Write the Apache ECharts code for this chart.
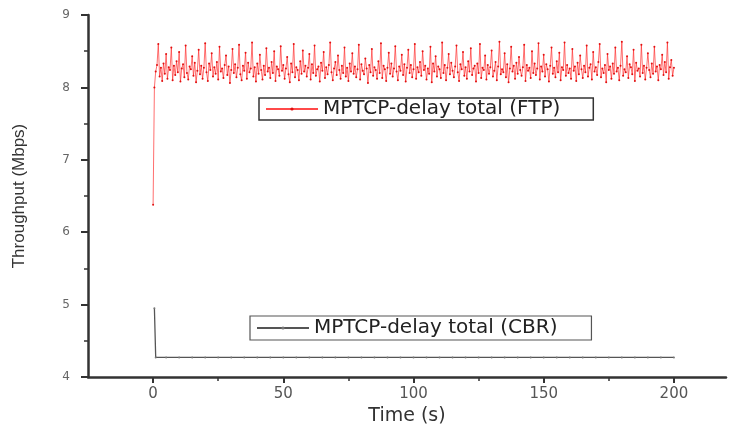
<!DOCTYPE html>
<html>
<head>
<meta charset="utf-8">
<script src="https://cdn.jsdelivr.net/npm/echarts@6/dist/echarts.min.js"></script>
<style>html,body{margin:0;padding:0;background:#fff;}#c{width:735px;height:424px;}</style>
</head>
<body>
<div id="c"></div>
<script>
var ftpName = 'MPTCP-delay total (FTP)';
var cbrName = 'MPTCP-delay total (CBR)';
var xMajorTicks = [0, 50, 100, 150, 200];
var xMinorTicks = [25, 75, 125, 175];
var yTicks = [4, 5, 6, 7, 8, 9];
var ftpStep = 0.5; // seconds between FTP samples

// FTP throughput, one value every 0.5 s, t = 0..200
var ftpValues = [
  6.38, 8.00,
  8.22, 8.31, 8.60, 8.15, 8.27, 8.09, 8.33, 8.19, 8.46, 8.12, 8.28, 8.24, 8.55, 8.10, 8.30, 8.17, 8.36, 8.21, 8.49, 8.08,
  8.26, 8.32, 8.14, 8.58, 8.20, 8.11, 8.29, 8.25, 8.43, 8.16, 8.34, 8.07, 8.23, 8.52, 8.18, 8.30, 8.12, 8.27, 8.61, 8.21,
  8.09, 8.33, 8.24, 8.47, 8.15, 8.28, 8.19, 8.35, 8.11, 8.56, 8.22, 8.26, 8.13, 8.31, 8.44, 8.17, 8.29, 8.06, 8.24, 8.53,
  8.20, 8.32, 8.14, 8.27, 8.59, 8.18, 8.10, 8.30, 8.23, 8.48, 8.12, 8.34, 8.21, 8.26, 8.62, 8.15, 8.28, 8.08, 8.33, 8.19,
  8.45, 8.24, 8.11, 8.30, 8.17, 8.54, 8.22, 8.27, 8.13, 8.35, 8.20, 8.50, 8.09, 8.29, 8.25, 8.16, 8.57, 8.23, 8.31, 8.12,
  8.26, 8.42, 8.18, 8.07, 8.33, 8.21, 8.60, 8.14, 8.28, 8.24, 8.10, 8.36, 8.19, 8.51, 8.22, 8.30, 8.15, 8.27, 8.46, 8.11,
  8.32, 8.20, 8.58, 8.16, 8.25, 8.29, 8.08, 8.34, 8.23, 8.49, 8.13, 8.28, 8.18, 8.31, 8.62, 8.21, 8.10, 8.26, 8.35, 8.17,
  8.44, 8.24, 8.12, 8.30, 8.20, 8.55, 8.15, 8.27, 8.09, 8.33, 8.22, 8.47, 8.19, 8.29, 8.14, 8.25, 8.59, 8.11, 8.32, 8.23,
  8.18, 8.40, 8.26, 8.06, 8.31, 8.21, 8.53, 8.16, 8.28, 8.24, 8.12, 8.36, 8.20, 8.61, 8.13, 8.30, 8.25, 8.09, 8.27, 8.48,
  8.19, 8.33, 8.15, 8.26, 8.57, 8.22, 8.10, 8.29, 8.23, 8.45, 8.17, 8.32, 8.08, 8.27, 8.52, 8.20, 8.31, 8.14, 8.25, 8.60,
  8.12, 8.28, 8.21, 8.35, 8.16, 8.50, 8.24, 8.30, 8.11, 8.26, 8.19, 8.56, 8.07, 8.33, 8.22, 8.43, 8.15, 8.29, 8.25, 8.13,
  8.62, 8.20, 8.31, 8.10, 8.27, 8.46, 8.18, 8.34, 8.23, 8.14, 8.29, 8.58, 8.21, 8.09, 8.32, 8.25, 8.49, 8.16, 8.28, 8.12,
  8.36, 8.22, 8.54, 8.17, 8.26, 8.30, 8.08, 8.33, 8.20, 8.60, 8.13, 8.27, 8.24, 8.44, 8.11, 8.31, 8.19, 8.28, 8.51, 8.15,
  8.23, 8.35, 8.10, 8.29, 8.63, 8.18, 8.25, 8.21, 8.47, 8.14, 8.32, 8.07, 8.26, 8.56, 8.22, 8.30, 8.12, 8.34, 8.19, 8.42,
  8.24, 8.16, 8.28, 8.59, 8.09, 8.31, 8.23, 8.27, 8.13, 8.50, 8.20, 8.33, 8.17, 8.26, 8.61, 8.11, 8.29, 8.22, 8.45, 8.15,
  8.32, 8.25, 8.08, 8.30, 8.55, 8.19, 8.27, 8.14, 8.36, 8.21, 8.48, 8.10, 8.28, 8.24, 8.62, 8.16, 8.31, 8.20, 8.26, 8.12,
  8.53, 8.23, 8.29, 8.09, 8.34, 8.18, 8.44, 8.25, 8.13, 8.30, 8.21, 8.58, 8.15, 8.27, 8.32, 8.11, 8.49, 8.22, 8.28, 8.17,
  8.35, 8.60, 8.14, 8.26, 8.20, 8.31, 8.07, 8.46, 8.24, 8.29, 8.12, 8.33, 8.19, 8.55, 8.22, 8.27, 8.10, 8.30, 8.63, 8.16,
  8.25, 8.21, 8.43, 8.13, 8.32, 8.28, 8.18, 8.52, 8.09, 8.34, 8.23, 8.26, 8.15, 8.59, 8.20, 8.30, 8.11, 8.27, 8.47, 8.24,
  8.14, 8.33, 8.19, 8.56, 8.22, 8.29, 8.10, 8.31, 8.25, 8.45, 8.17, 8.35, 8.21, 8.62, 8.12, 8.28, 8.38, 8.16, 8.27
];

// CBR throughput samples
var cbrTime = [0.5, 1, 5, 10, 15, 20, 25, 30, 35, 40, 45, 50, 55, 60, 65, 70, 75, 80, 85, 90, 95, 100,
  105, 110, 115, 120, 125, 130, 135, 140, 145, 150, 155, 160, 165, 170, 175, 180, 185, 190, 195, 200];
var cbrValues = [4.95, 4.27, 4.27, 4.27, 4.27, 4.27, 4.27, 4.27, 4.27, 4.27, 4.27, 4.27, 4.27, 4.27, 4.27, 4.27,
  4.27, 4.27, 4.27, 4.27, 4.27, 4.27, 4.27, 4.27, 4.27, 4.27, 4.27, 4.27, 4.27, 4.27, 4.27, 4.27, 4.27, 4.27,
  4.27, 4.27, 4.27, 4.27, 4.27, 4.27, 4.27, 4.27];

var ftpData = ftpValues.map(function (v, i) { return [i * ftpStep, v]; });
var cbrData = cbrTime.map(function (t, i) { return [t, cbrValues[i]]; });

var chart = echarts.init(document.getElementById('c'), null, {renderer: 'canvas'});
var font = 'DejaVu Sans';
chart.setOption({
  animation: false,
  backgroundColor: '#ffffff',
  grid: {left: 88, right: 9, top: 15, bottom: 47, containLabel: false, outerBoundsMode: 'none'},
  legend: [
    {
      data: [ftpName], left: 259, top: 98, orient: 'horizontal',
      borderColor: '#333', borderWidth: 1.5, padding: [1, 33, 1, 6],
      itemWidth: 52, itemHeight: 4,
      textStyle: {fontFamily: font, fontSize: 20, color: '#222', lineHeight: 19}
    },
    {
      data: [cbrName], left: 250, top: 316, orient: 'horizontal',
      borderColor: '#555', borderWidth: 1.2, padding: [2, 34, 2, 6],
      itemWidth: 52, itemHeight: 4,
      textStyle: {fontFamily: font, fontSize: 20, color: '#222', lineHeight: 19}
    }
  ],
  xAxis: [
    {
      type: 'value', min: -25, max: 220,
      name: 'Time (s)', nameLocation: 'middle', nameGap: 22,
      nameTextStyle: {fontFamily: font, fontSize: 19, color: '#333'},
      axisLine: {show: true, onZero: false, lineStyle: {color: '#333', width: 2.5}},
      axisTick: {show: true, length: 6, customValues: xMajorTicks, lineStyle: {color: '#333', width: 2}},
      axisLabel: {customValues: xMajorTicks, margin: 10, fontFamily: font, fontSize: 15, color: '#555'},
      splitLine: {show: false}
    },
    {
      type: 'value', min: -25, max: 220, position: 'bottom',
      axisLine: {show: false, onZero: false},
      axisTick: {show: true, length: 4, customValues: xMinorTicks, lineStyle: {color: '#333', width: 1.5}},
      axisLabel: {show: false},
      splitLine: {show: false}
    }
  ],
  yAxis: {
    type: 'value', min: 4, max: 9, interval: 1,
    name: 'Throughput (Mbps)', nameLocation: 'middle', nameGap: 60,
    nameTextStyle: {fontFamily: 'Liberation Sans', fontSize: 17, color: '#333'},
    axisLine: {show: true, onZero: false, lineStyle: {color: '#333', width: 2.5}},
    axisTick: {show: true, length: 7, lineStyle: {color: '#333', width: 2}},
    minorTick: {show: true, splitNumber: 2, length: 4, lineStyle: {color: '#333', width: 1.5}},
    axisLabel: {margin: 18, fontFamily: font, fontSize: 12, color: '#666',
      customValues: yTicks},
    splitLine: {show: false}
  },
  series: [
    {
      name: ftpName, type: 'line', xAxisIndex: 0, data: ftpData,
      symbol: 'circle', symbolSize: 2, showSymbol: true,
      lineStyle: {color: '#ff2a2a', width: 0.8, opacity: 0.85},
      itemStyle: {color: '#e01010'}
    },
    {
      name: cbrName, type: 'line', xAxisIndex: 0, data: cbrData,
      symbol: 'circle', symbolSize: 2, showSymbol: true,
      lineStyle: {color: '#555', width: 1.3},
      itemStyle: {color: '#777'}
    }
  ]
});
</script>
</body>
</html>
